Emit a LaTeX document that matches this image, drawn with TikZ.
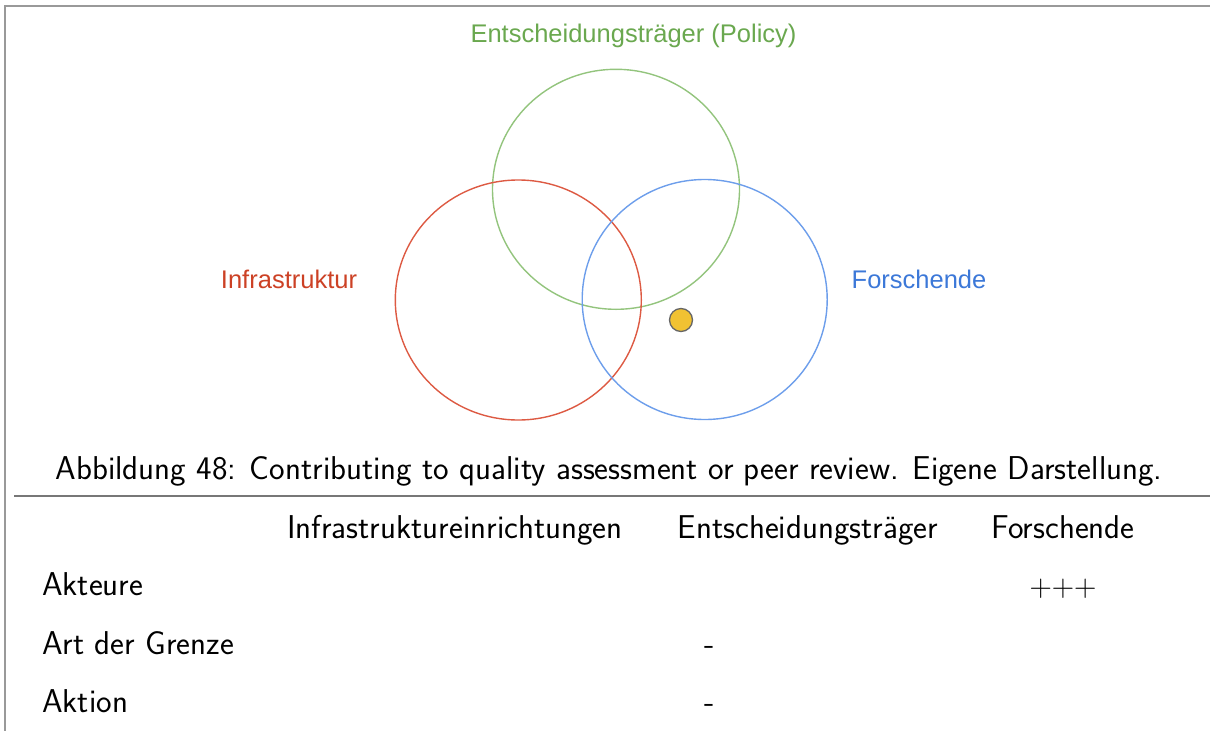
\documentclass[tikz,border=0pt]{standalone}
\usepackage{fontspec}
\newfontfamily\arialfont{Liberation Sans}
\definecolor{cgreen}{HTML}{93C47D}
\definecolor{cred}{HTML}{DD5A43}
\definecolor{cblue}{HTML}{6D9EEB}
\definecolor{tgreen}{HTML}{6AA84F}
\definecolor{tred}{HTML}{CC4125}
\definecolor{tblue}{HTML}{3C78D8}
\definecolor{dotfill}{HTML}{F1C232}
\definecolor{frame}{HTML}{999999}
\definecolor{rulec}{HTML}{777777}
\begin{document}
\begin{tikzpicture}[x=1pt,y=-1pt,
  venn/.style={draw, line width=1.4pt, fill=none},
  lbl/.style={inner sep=0pt, anchor=base, font=\arialfont\fontsize{25.5}{30}\selectfont},
  txt/.style={inner sep=0pt, anchor=base, font=\sffamily\fontsize{33}{40}\selectfont},
  txtl/.style={txt, anchor=base west}]
\useasboundingbox (0,0) rectangle (1210,731);
% frame
\coordinate (ftr) at (1210,6);
\coordinate (ftl) at (5,6);
\coordinate (fbl) at (5,731);
\draw[frame, line width=1.6pt] (ftr) -- (ftl) -- (fbl);
% circles
\draw[venn, cgreen] (616,189.3) ellipse [x radius=123.5, y radius=120];
\draw[venn, cred] (518.3,300) ellipse [x radius=123, y radius=120];
\draw[venn, cblue] (704.7,299.5) ellipse [x radius=122.5, y radius=120];
\node[circle, draw=black!60, fill=dotfill, line width=1.3pt, minimum size=23pt, inner sep=0pt] (dot) at (681,320) {};
% labels
\node[lbl, text=tgreen] (lpol) at (633.5,42) {Entscheidungsträger (Policy)};
\node[lbl, text=tred] (linf) at (289,288) {Infrastruktur};
\node[lbl, text=tblue] (lfor) at (919,288) {Forschende};
% caption
\node[txt] (cap) at (609,479) {Abbildung 48: Contributing to quality assessment or peer review. Eigene Darstellung.};
\coordinate (rl) at (14,496);
\coordinate (rr) at (1210,496);
\draw[rulec, line width=1.3pt] (rl) -- (rr);
% table
\node[txt] (h1) at (455,538) {Infrastruktureinrichtungen};
\node[txt] (h2) at (808,538) {Entscheidungsträger};
\node[txt] (h3) at (1063,538) {Forschende};
\node[txtl] (r1) at (42,595) {Akteure};
\node[txtl] (r2) at (42,654.5) {Art der Grenze};
\node[txtl] (r3) at (42,712) {Aktion};
\node[txt, font=\rmfamily\fontsize{31}{36}\selectfont] (c13) at (1063,596.5) {+++};
\node[txt] (c22) at (710,654.5) {-};
\node[txt] (c32) at (710,712) {-};
\end{tikzpicture}
\end{document}
